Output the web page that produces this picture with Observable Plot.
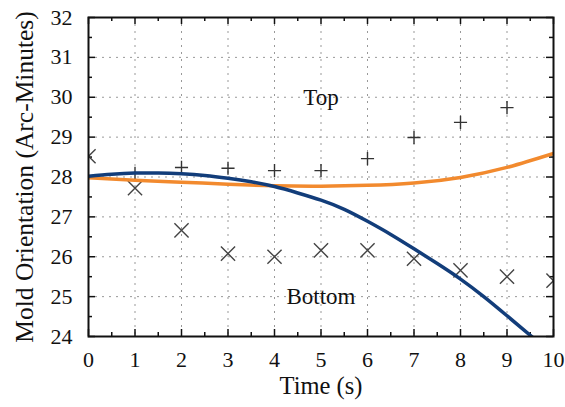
<!DOCTYPE html>
<html><head>
<meta charset="utf-8">
<script src="https://cdn.jsdelivr.net/npm/d3@7"></script>
<script src="https://cdn.jsdelivr.net/npm/@observablehq/plot@0.6"></script>
<style>body{margin:0;background:#fff;} svg{display:block;}</style>
</head><body><div id="chart"></div>
<script>
// Data
const topTime = [1, 2, 3, 4, 5, 6, 7, 8, 9];
const topValues = [28.09, 28.24, 28.22, 28.16, 28.16, 28.46, 28.99, 29.37, 29.74];
const bottomTime = [0, 1, 2, 3, 4, 5, 6, 7, 8, 9, 10];
const bottomValues = [28.52, 27.72, 26.66, 26.08, 26.0, 26.16, 26.16, 25.95, 25.66, 25.5, 25.4];
const blueTime = [0, 0.5, 1, 1.5, 2, 2.5, 3, 3.5, 4, 4.5, 5, 5.5, 6, 6.5, 7, 7.5, 8, 8.5, 9, 9.5, 10];
const blueValues = [28.02, 28.07, 28.1, 28.1, 28.08, 28.04, 27.97, 27.88, 27.76, 27.6, 27.42, 27.19, 26.89, 26.56, 26.2, 25.83, 25.44, 25.0, 24.52, 24.03, 23.53];
const orangeTime = [0, 1, 2, 3, 4, 5, 6, 7, 8, 9, 10];
const orangeValues = [27.98, 27.92, 27.87, 27.82, 27.78, 27.77, 27.79, 27.85, 27.99, 28.24, 28.59];
const xTicks = [0, 1, 2, 3, 4, 5, 6, 7, 8, 9, 10];
const xMinorTicks = [0.5, 1.5, 2.5, 3.5, 4.5, 5.5, 6.5, 7.5, 8.5, 9.5];
const yTicks = [24, 25, 26, 27, 28, 29, 30, 31, 32];
const yMinorTicks = [24.5, 25.5, 26.5, 27.5, 28.5, 29.5, 30.5, 31.5];
const annotations = [{t: 5, v: 30, label: "Top"}, {t: 5, v: 25, label: "Bottom"}];
const xLabel = "Time (s)";
const yLabel = "Mold Orientation (Arc-Minutes)";

const W = 565, H = 407, mL = 88, mR = 12, mT = 17, mB = 71;
const fw = W - mL - mR, fh = H - mT - mB;
const major = 7, minor = 4;
const zip = (a, b) => a.map((t, i) => ({t, v: b[i]}));

const chart = Plot.plot({
  width: W, height: H,
  marginLeft: mL, marginRight: mR, marginTop: mT, marginBottom: mB,
  style: {fontFamily: "'Liberation Serif', 'DejaVu Serif', serif", fontSize: "22px", color: "#111", background: "#fff"},
  x: {domain: [0, 10]},
  y: {domain: [24, 32]},
  marks: [
    Plot.gridX(xTicks, {stroke: "#999", strokeOpacity: 1, strokeDasharray: "2,5", strokeWidth: 1}),
    Plot.gridY(yTicks, {stroke: "#999", strokeOpacity: 1, strokeDasharray: "2,5", strokeWidth: 1}),
    // inward ticks
    Plot.ruleX(xTicks, {x: d => d, insetTop: fh - major, stroke: "#111", strokeWidth: 1.5}),
    Plot.ruleX(xTicks, {x: d => d, insetBottom: fh - major, stroke: "#111", strokeWidth: 1.5}),
    Plot.ruleX(xMinorTicks, {x: d => d, insetTop: fh - minor, stroke: "#111", strokeWidth: 1.5}),
    Plot.ruleX(xMinorTicks, {x: d => d, insetBottom: fh - minor, stroke: "#111", strokeWidth: 1.5}),
    Plot.ruleY(yTicks, {y: d => d, insetRight: fw - major, stroke: "#111", strokeWidth: 1.5}),
    Plot.ruleY(yTicks, {y: d => d, insetLeft: fw - major, stroke: "#111", strokeWidth: 1.5}),
    Plot.ruleY(yMinorTicks, {y: d => d, insetRight: fw - minor, stroke: "#111", strokeWidth: 1.5}),
    Plot.ruleY(yMinorTicks, {y: d => d, insetLeft: fw - minor, stroke: "#111", strokeWidth: 1.5}),
    // tick labels
    Plot.axisX(xTicks, {tickSize: 0, tickPadding: 15, tickFormat: d => String(d), label: null, fontSize: 22}),
    Plot.axisY(yTicks, {tickSize: 0, tickPadding: 16, tickFormat: d => String(d), label: null, fontSize: 22}),
    // data markers
    Plot.dot(zip(topTime, topValues), {x: "t", y: "v", symbol: "plus", r: 4.3, stroke: "#333", strokeWidth: 1.4, clip: true}),
    Plot.dot(zip(bottomTime, bottomValues), {x: "t", y: "v", symbol: "times", r: 6.5, stroke: "#444", strokeWidth: 1.4, clip: true}),
    // curves
    Plot.line(zip(orangeTime, orangeValues), {x: "t", y: "v", curve: "natural", stroke: "#f28a2e", strokeWidth: 3.5, clip: true}),
    Plot.line(zip(blueTime, blueValues), {x: "t", y: "v", curve: "natural", stroke: "#123d7a", strokeWidth: 3.5, clip: true}),
    // annotations
    Plot.text(annotations, {x: "t", y: "v", text: "label", fontSize: 23, fill: "#111"}),
    // axis titles
    Plot.text([xLabel], {frameAnchor: "bottom", lineAnchor: "middle", textAnchor: "middle", dy: 50, fontSize: 24.5, fill: "#111"}),
    Plot.text([yLabel], {frameAnchor: "left", textAnchor: "middle", lineAnchor: "middle", dx: -64, rotate: -90, fontSize: 25.5, fill: "#111"}),
    Plot.frame({stroke: "#111", strokeWidth: 2})
  ]
});
document.getElementById("chart").appendChild(chart);
</script>
</body></html>
